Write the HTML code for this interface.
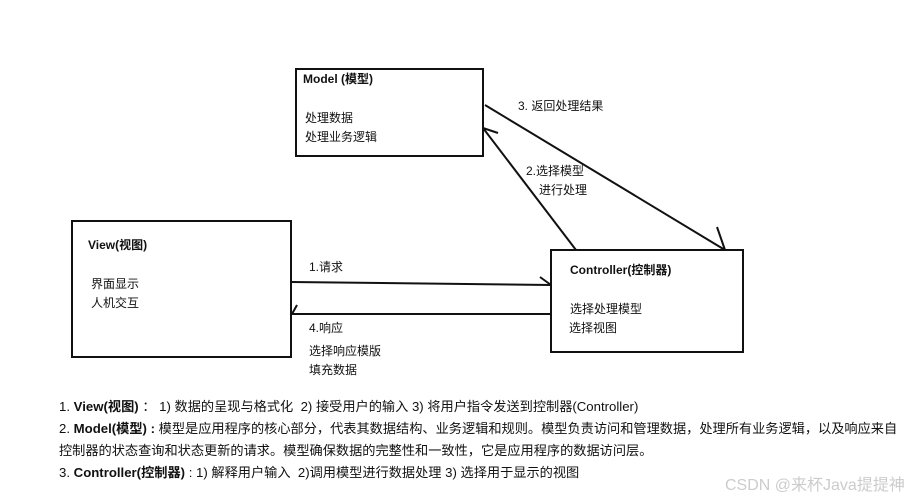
<!DOCTYPE html>
<html><head><meta charset="utf-8"><style>
body{margin:0;width:918px;height:500px;background:#fff;position:relative;overflow:hidden;font-family:"Liberation Sans","Noto Sans CJK SC",sans-serif;color:#111}
.t{position:absolute;font-size:12px;white-space:nowrap;line-height:14px}
.b{font-weight:bold}
.p{position:absolute;left:59px;font-size:13.2px;white-space:nowrap;line-height:16px}
</style></head><body>
<svg width="918" height="500" style="position:absolute;left:0;top:0" fill="none" stroke="#111" stroke-width="2">
<rect x="296" y="69" width="187" height="87"/>
<rect x="72" y="221" width="219" height="136"/>
<rect x="551" y="250" width="192" height="102"/>
<path d="M291 282 L551 285 M540 277 L551 285"/>
<path d="M551 314 L292 314 M292 314 L297 305"/>
<path d="M576 250 L483 128 M483 128 L498 133"/>
<path d="M485 105 L725 250 M725 250 L717 227"/>
</svg>
<div class="t b" style="left:303px;top:72px">Model (模型)</div>
<div class="t" style="left:305px;top:111px">处理数据</div>
<div class="t" style="left:305px;top:130px">处理业务逻辑</div>
<div class="t" style="left:518px;top:99px">3. 返回处理结果</div>
<div class="t" style="left:526px;top:164px">2.选择模型</div>
<div class="t" style="left:539px;top:183px">进行处理</div>
<div class="t b" style="left:88px;top:238px">View(视图)</div>
<div class="t" style="left:91px;top:277px">界面显示</div>
<div class="t" style="left:91px;top:296px">人机交互</div>
<div class="t" style="left:309px;top:260px">1.请求</div>
<div class="t" style="left:309px;top:321px">4.响应</div>
<div class="t" style="left:309px;top:344px">选择响应模版</div>
<div class="t" style="left:309px;top:363px">填充数据</div>
<div class="t b" style="left:570px;top:263px">Controller(控制器)</div>
<div class="t" style="left:570px;top:302px">选择处理模型</div>
<div class="t" style="left:569px;top:321px">选择视图</div>
<div class="p" style="top:399px">1. <b>View(视图)</b> ： 1) 数据的呈现与格式化&nbsp; 2) 接受用户的输入 3) 将用户指令发送到控制器(Controller)</div>
<div class="p" style="top:421px">2. <b>Model(模型) :</b> 模型是应用程序的核心部分，代表其数据结构、业务逻辑和规则。模型负责访问和管理数据，处理所有业务逻辑，以及响应来自</div>
<div class="p" style="top:443px">控制器的状态查询和状态更新的请求。模型确保数据的完整性和一致性，它是应用程序的数据访问层。</div>
<div class="p" style="top:465px">3. <b>Controller(控制器)</b> : 1) 解释用户输入&nbsp; 2)调用模型进行数据处理 3) 选择用于显示的视图</div>
<div class="t" style="left:725px;top:477px;font-size:16px;color:#ccc;line-height:18px">CSDN @来杯Java提提神</div>
</body></html>
